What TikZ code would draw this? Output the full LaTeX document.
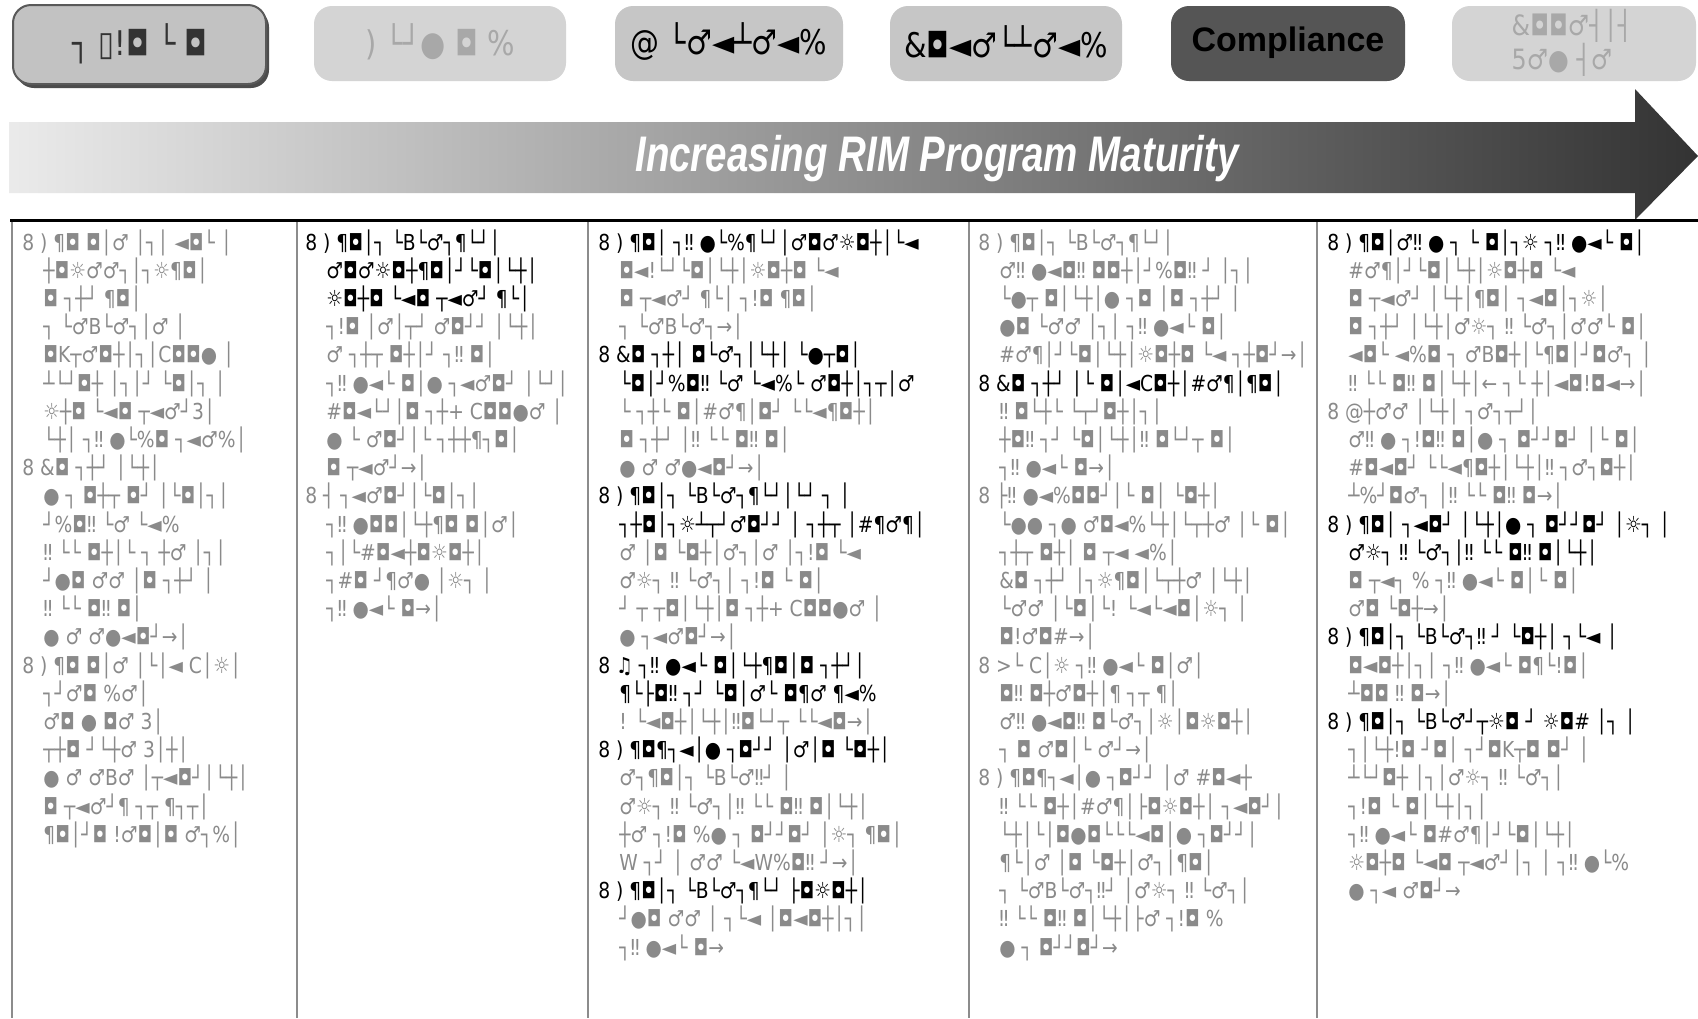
\documentclass[tikz,border=0pt]{standalone}
\usepackage{fontspec}
\usepackage{graphicx}
\setmainfont{DejaVu Sans}[FakeStretch=0.85]
\newfontfamily\arialf{Liberation Sans}
\definecolor{txtgray}{HTML}{8A8A8A}
\definecolor{faint}{HTML}{A8A8A8}
\definecolor{boxA}{HTML}{C2C2C2}
\definecolor{boxB}{HTML}{D4D4D4}
\definecolor{boxC}{HTML}{C6C6C6}
\definecolor{boxD}{HTML}{555555}
\definecolor{rulegray}{HTML}{8C8C8C}
\newlength{\colind}\setlength{\colind}{10.5pt}
\newcommand{\hk}[1]{\textcolor{black}{#1}}
\newcommand{\hg}[1]{\textcolor{txtgray}{#1}}
\newcommand{\ig}[1]{\hspace*{\colind}\textcolor{txtgray}{#1}}
\newcommand{\ik}[1]{\hspace*{\colind}\textcolor{black}{#1}}
\tikzset{
  hdrbox/.style={rounded corners=9pt},
  hdrtext/.style={font=\fontsize{17}{17}\selectfont},
  coltext/.style={anchor=north west, inner sep=0pt, align=left,
    font=\fontsize{11}{14.1}\selectfont},
  colrule/.style={draw=rulegray, line width=1.2pt}
}
\begin{document}
\begin{tikzpicture}[x=0.5pt,y=-0.5pt]
\useasboundingbox (0,0) rectangle (1698,1018);
\fill[white] (0,0) rectangle (1698,1018);
% header boxes
\fill[black!70, hdrbox] (16,9) rectangle (269,88);
\filldraw[fill=boxA, draw=black!65, line width=1pt, hdrbox] (13,5) rectangle (266,84);
\node[hdrtext, text=black!80] (h1) at (140,44) {┐ ▯!◘ └ ◘};
\fill[boxB, hdrbox] (314,6) rectangle (566,81);
\node[hdrtext, text=faint] (h2) at (440,42) {) └┘● ◘ \%};
\fill[boxC, hdrbox] (615,6) rectangle (843,81);
\node[hdrtext, text=black] (h3) at (729,42) {@ └♂◄┴♂◄\%};
\fill[boxC, hdrbox] (890,6) rectangle (1122,81);
\node[hdrtext, text=black] (h4) at (1006,42) {\&◘◄♂└┴♂◄\%};
\fill[boxD, hdrbox] (1171,6) rectangle (1405,81);
\node[font=\arialf\bfseries\fontsize{17}{17}\selectfont, text=black] (h5) at (1288,43) {Compliance};
\fill[boxB, hdrbox] (1452,6) rectangle (1696,81);
\node[font=\fontsize{14}{17}\selectfont, text=faint, align=left] (h6) at (1572,43) {\&◘◘♂┤│┤\\5♂● ┤♂};
% maturity arrow
\shade[left color=black!8, middle color=black!32, right color=black!80]
  (9,122) -- (1635,122) -- (1635,89) -- (1698,156) -- (1635,220) -- (1635,193) -- (9,193) -- cycle;
\node[text=white, font=\arialf\bfseries\itshape\fontsize{25}{25}\selectfont] (arrowlabel) at (937,159)
  {\scalebox{0.77}[1]{Increasing RIM Program Maturity}};
% table rules
\draw[colrule] (12,220) -- (12,1018);
\draw[colrule] (297,220) -- (297,1018);
\draw[colrule] (588,220) -- (588,1018);
\draw[colrule] (969,220) -- (969,1018);
\draw[colrule] (1317,220) -- (1317,1018);
\draw[line width=1.5pt] (10,220) -- (1698,220);
% column 1
\node[coltext] (c1) at (22,229) {%
\hg{8 ) ¶◘ ◘│♂ │┐│ ◄◘└ │}\\
\ig{┼◘☼♂♂┐│┐☼¶◘│}\\
\ig{◘ ┐┼┘ ¶◘│}\\
\ig{┐ └♂B└♂┐│♂ │}\\
\ig{◘K┬♂◘┼│┐│C◘◘● │}\\
\ig{┴└┘◘┼ │┐│┘ └◘│┐ │}\\
\ig{☼┼◘ └◄◘ ┬◄♂┘3│}\\
\ig{└┼│ ┐‼ ●└\%◘ ┐◄♂\%│}\\
\hg{8 \&◘ ┐┼┘ │└┼│}\\
\ig{● ┐ ◘┼┬ ◘┘ │└◘│┐│}\\
\ig{┘\%◘‼ └♂ └◄\%}\\
\ig{‼ └└ ◘┼│└ ┐ ┼♂ │┐│}\\
\ig{┘●◘ ♂♂ │◘ ┐┼┘ │}\\
\ig{‼ └└ ◘‼ ◘│}\\
\ig{● ♂ ♂●◄◘┘→│}\\
\hg{8 ) ¶◘ ◘│♂ │└│◄ C│☼│}\\
\ig{┐┘♂◘ \%♂│}\\
\ig{♂◘ ● ◘♂ 3│}\\
\ig{┬┼◘ ┘└┼♂ 3│┼│}\\
\ig{● ♂ ♂B♂ │┬◄◘┘│└┼│}\\
\ig{◘ ┬◄♂┘¶ ┐┬ ¶┐┬│}\\
\ig{¶◘│┘◘ !♂◘│◘ ♂┐\%│}};
% column 2
\node[coltext] (c2) at (305,229) {%
\hk{8 ) ¶◘│┐ └B└♂┐¶└┘│}\\
\ik{♂◘♂☼◘┼¶◘│┘└◘│└┼│}\\
\ik{☼◘┼◘ └◄◘ ┬◄♂┘ ¶└│}\\
\ig{┐!◘ │♂│┬┘ ♂◘┘┘ │└┼│}\\
\ig{♂ ┐┼┬ ◘┼│┘ ┐‼ ◘│}\\
\ig{┐‼ ●◄└ ◘│● ┐◄♂◘┘ │└┘│}\\
\ig{\#◘◄└┘│◘ ┐┼+ C◘◘●♂ │}\\
\ig{● └ ♂◘┘│└ ┐┼┼¶┐◘│}\\
\ig{◘ ┬◄♂┘→│}\\
\hg{8 ┤ ┐◄♂◘┘│└◘│┐│}\\
\ig{┐‼ ●◘◘│└┼¶◘ ◘│♂│}\\
\ig{┐│└\#◘◄┼◘☼◘┼│}\\
\ig{┐\#◘ ┘¶♂● │☼┐ │}\\
\ig{┐‼ ●◄└ ◘→│}};
% column 3
\node[coltext] (c3) at (598,229) {%
\hk{8 ) ¶◘│ ┐‼ ●└\%¶└┘│♂◘♂☼◘┼│└◄}\\
\ig{◘◄!└┘└◘│└┼│☼◘┼◘ └◄}\\
\ig{◘ ┬◄♂┘ ¶└│ ┐!◘ ¶◘│}\\
\ig{┐ └♂B└♂┐→│}\\
\hk{8 \&◘ ┐┼│ ◘└♂┐│└┼│ └●┬◘│}\\
\ik{└◘│┘\%◘‼ └♂ └◄\%└ ♂◘┼│┐┬│♂}\\
\ig{└ ┐┼└ ◘│\#♂¶│◘┘ └└◄¶◘┼│}\\
\ig{◘ ┐┼┘ │‼ └└ ◘‼ ◘│}\\
\ig{● ♂ ♂●◄◘┘→│}\\
\hk{8 ) ¶◘│┐ └B└♂┐¶└┘│└┘ ┐ │}\\
\ik{┐┼◘│┐☼┴┬┘♂◘┘┘ │ ┐┼┬ │\#¶♂¶│}\\
\ig{♂ │◘ └◘┼│♂┐│♂ │┐!◘ └◄}\\
\ig{♂☼┐ ‼ └♂┐│ ┐!◘ └ ◘│}\\
\ig{┘ ┬ ┬◘│└┼│◘ ┐┼+ C◘◘●♂ │}\\
\ig{● ┐◄♂◘┘→│}\\
\hk{8 ♫ ┐‼ ●◄└ ◘│└┼¶◘│◘ ┐┼┘│}\\
\ik{¶└├◘‼ ┐┘ └◘│♂└ ◘¶♂ ¶◄\%}\\
\ig{! └◄◘┼│└┼│‼◘└┘┬ └└◄◘→│}\\
\hk{8 ) ¶◘¶┐◄│● ┐◘┘┘ │♂│◘ └◘┼│}\\
\ig{♂┐¶◘│┐ └B└♂‼┘ │}\\
\ig{♂☼┐ ‼ └♂┐│‼ └└ ◘‼ ◘│└┼│}\\
\ig{┼♂ ┐!◘ \%● ┐ ◘┘┘◘┘ │☼┐ ¶◘│}\\
\ig{W ┐┘ │ ♂♂ └◄W\%◘‼ ┘→│}\\
\hk{8 ) ¶◘│┐ └B└♂┐¶└┘ ├◘☼◘┼│}\\
\ig{┘●◘ ♂♂ │ ┐└◄ │◘◄◘┼│┐│}\\
\ig{┐‼ ●◄└ ◘→}};
% column 4
\node[coltext] (c4) at (978,229) {%
\hg{8 ) ¶◘│┐ └B└♂┐¶└┘│}\\
\ig{♂‼ ●◄◘‼ ◘◘┼│┘\%◘‼ ┘ │┐│}\\
\ig{└●┬ ◘│└┼│● ┐◘ │◘ ┐┼┘ │}\\
\ig{●◘ └♂♂ │┐│ ┐‼ ●◄└ ◘│}\\
\ig{\#♂¶│┘└◘│└┼│☼◘┼◘ └◄ ┐┼◘┘→│}\\
\hk{8 \&◘ ┐┼┘ │└ ◘│◄C◘┼│\#♂¶│¶◘│}\\
\ig{‼ ◘└┼└ └┬┘◘┼│┐│}\\
\ig{┼◘‼ ┐┘ └◘│└┼│‼ ◘└┘┬ ◘│}\\
\ig{┐‼ ●◄└ ◘→│}\\
\hg{8 ├‼ ●◄\%◘◘┘│└ ◘│ └◘┼│}\\
\ig{└●● ┐● ♂◘◄\%└┼│└┬┼♂ │└ ◘│}\\
\ig{┐┼┬ ◘┼│ ◘ ┬◄ ◄\%│}\\
\ig{\&◘ ┐┼┘ │┐☼¶◘│└┬┼♂ │└┼│}\\
\ig{└♂♂ │└◘│└! └◄└◄◘│☼┐ │}\\
\ig{◘!♂◘\#→│}\\
\hg{8 >└ C│☼ ┐‼ ●◄└ ◘│♂│}\\
\ig{◘‼ ◘┼♂◘┼│¶ ┐┬ ¶│}\\
\ig{♂‼ ●◄◘‼ ◘└♂┐│☼│◘☼◘┼│}\\
\ig{┐ ◘ ♂◘│└ ♂┘→│}\\
\hg{8 ) ¶◘¶┐◄│● ┐◘┘┘ │♂ \#◘◄┼}\\
\ig{‼ └└ ◘┼│\#♂¶│├◘☼◘┼│ ┐◄◘┘│}\\
\ig{└┼│└│◘●◘└└└◄◘│● ┐◘┘┘│}\\
\ig{¶└│♂ │◘ └◘┼│♂┐│¶◘│}\\
\ig{┐ └♂B└♂┐‼┘ │♂☼┐ ‼ └♂┐│}\\
\ig{‼ └└ ◘‼ ◘│└┼│├♂ ┐!◘ \%}\\
\ig{● ┐ ◘┘┘◘┘→}};
% column 5
\node[coltext] (c5) at (1327,229) {%
\hk{8 ) ¶◘│♂‼ ● ┐ └ ◘│┐☼ ┐‼ ●◄└ ◘│}\\
\ig{\#♂¶│┘└◘│└┼│☼◘┼◘ └◄}\\
\ig{◘ ┬◄♂┘ │└┼│¶◘│ ┐◄◘│┐☼│}\\
\ig{◘ ┐┼┘ │└┼│♂☼┐ ‼ └♂┐│♂♂└ ◘│}\\
\ig{◄◘└ ◄\%◘ ┐ ♂B◘┼│└¶◘│┘◘♂┐ │}\\
\ig{‼ └└ ◘‼ ◘│└┼│← ┐└ ┼│◄◘!◘◄→│}\\
\hg{8 @┼♂♂ │└┼│ ┐♂┐┬┘│}\\
\ig{♂‼ ● ┐!◘‼ ◘│● ┐ ◘┘┘◘┘ │└ ◘│}\\
\ig{\#◘◄◘┘ └└◄¶◘┼│└┼│‼ ┐♂┐◘┼│}\\
\ig{┴\%┘◘♂┐ │‼ └└ ◘‼ ◘→│}\\
\hk{8 ) ¶◘│ ┐◄◘┘ │└┼│● ┐ ◘┘┘◘┘ │☼┐ │}\\
\ik{♂☼┐ ‼ └♂┐│‼ └└ ◘‼ ◘│└┼│}\\
\ig{◘ ┬◄┐ \% ┐‼ ●◄└ ◘│└ ◘│}\\
\ig{♂◘ └◘┼→│}\\
\hk{8 ) ¶◘│┐ └B└♂┐‼ ┘ └◘┼│ ┐└◄ │}\\
\ig{◘◄◘┼│┐│ ┐‼ ●◄└ ◘¶└!◘│}\\
\ig{┴◘◘ ‼ ◘→│}\\
\hk{8 ) ¶◘│┐ └B└♂┘┬☼◘ ┘ ☼◘\# │┐ │}\\
\ig{┐│└┼!◘ ┘◘│ ┐┘◘K┬◘ ◘┘ │}\\
\ig{┴└┘◘┼ │┐│♂☼┐ ‼ └♂┐│}\\
\ig{┐!◘ └ ◘│└┼│┐│}\\
\ig{┐‼ ●◄└ ◘\#♂¶│┘└◘│└┼│}\\
\ig{☼◘┼◘ └◄◘ ┬◄♂┘│┐ │ ┐‼ ●└\%}\\
\ig{● ┐◄ ♂◘┘→}};
\end{tikzpicture}
\end{document}
